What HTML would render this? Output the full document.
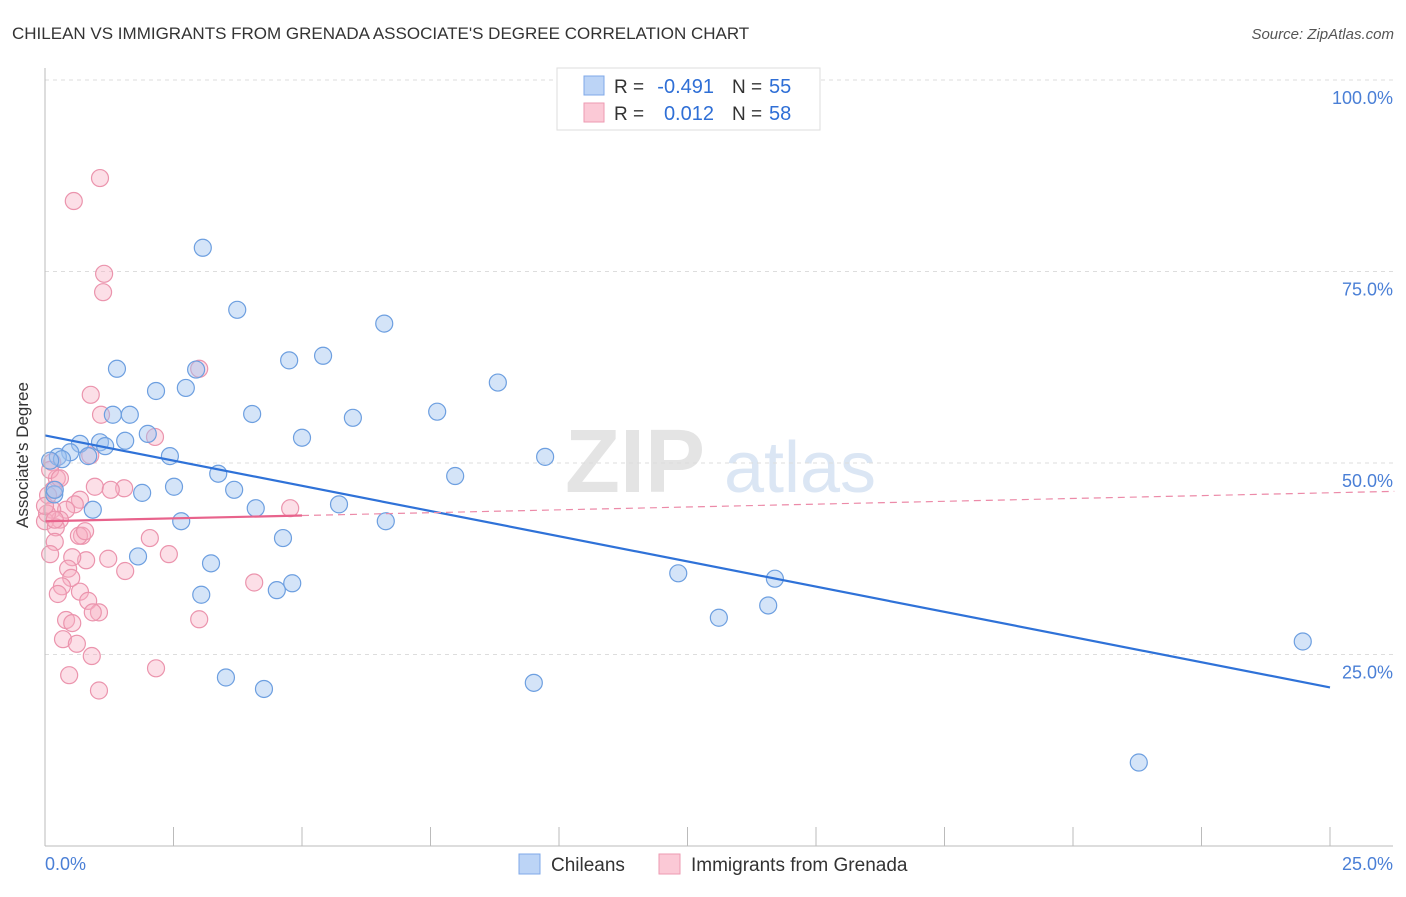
<!DOCTYPE html>
<html><head><meta charset="utf-8"><style>
body{margin:0;background:#fff;font-family:"Liberation Sans",sans-serif}
svg text{font-family:"Liberation Sans",sans-serif}
</style></head><body>
<svg id="c" width="1406" height="892" xmlns="http://www.w3.org/2000/svg">
<text x="12" y="39" font-size="17" fill="#333">CHILEAN VS IMMIGRANTS FROM GRENADA ASSOCIATE'S DEGREE CORRELATION CHART</text>
<text x="1394" y="39" font-size="15" fill="#555" text-anchor="end" font-style="italic">Source: ZipAtlas.com</text>
<text x="635" y="492" font-size="90" fill="#e4e4e4" font-family="Liberation Serif" font-weight="bold" text-anchor="middle">ZIP</text>
<text x="800" y="492" font-size="72" fill="#dbe6f4" text-anchor="middle">atlas</text>
<g id="grid"></g><g id="pts"></g><g id="lines"></g>
<line x1="45" y1="68" x2="45" y2="846" stroke="#bbb"/>
<line x1="45" y1="846" x2="1393" y2="846" stroke="#bbb"/>
<text x="28" y="455" font-size="17" fill="#333" text-anchor="middle" transform="rotate(-90 28 455)">Associate's Degree</text>
<text x="45" y="870" font-size="18" fill="#4a7fd6">0.0%</text>
<text x="1393" y="870" font-size="18" fill="#4a7fd6" text-anchor="end">25.0%</text>
<g>
<rect x="557" y="68" width="263" height="62" fill="#fff" stroke="#ddd"/>
<rect x="584" y="76" width="20" height="19" fill="#bcd4f6" stroke="#7fa8e8"/>
<rect x="584" y="103" width="20" height="19" fill="#fbc9d6" stroke="#ee9ab2"/>
<text x="614" y="93" font-size="19" fill="#333">R =</text>
<text x="714" y="93" font-size="20" fill="#2f6fd6" text-anchor="end">-0.491</text>
<text x="732" y="93" font-size="19" fill="#333">N =</text>
<text x="769" y="93" font-size="20" fill="#2f6fd6">55</text>
<text x="614" y="120" font-size="19" fill="#333">R =</text>
<text x="714" y="120" font-size="20" fill="#2f6fd6" text-anchor="end">0.012</text>
<text x="732" y="120" font-size="19" fill="#333">N =</text>
<text x="769" y="120" font-size="20" fill="#2f6fd6">58</text>
</g>
<g>
<rect x="519" y="854" width="21" height="20" fill="#bcd4f6" stroke="#7fa8e8"/>
<text x="551" y="871" font-size="19" fill="#333">Chileans</text>
<rect x="659" y="854" width="21" height="20" fill="#fbc9d6" stroke="#ee9ab2"/>
<text x="691" y="871" font-size="19" fill="#333">Immigrants from Grenada</text>
</g>
</svg>
<script>
const yTicks=[25,50,75,100];
const xTicks=[0,2.5,5,7.5,10,12.5,15,17.5,20,22.5,25];
const blueX=[3.07,3.74,6.60,5.41,4.75,1.40,2.94,8.81,2.16,2.74,1.32,1.65,4.03,5.99,7.63,2.00,1.56,1.07,0.68,5.00,1.17,0.49,0.84,0.25,0.33,2.43,9.73,3.37,7.98,0.18,1.89,2.51,3.68,5.72,0.93,4.10,2.65,6.63,4.63,1.81,3.23,12.32,14.20,4.81,4.51,3.04,14.07,13.11,24.47,3.52,4.26,9.51,21.28,0.19,0.10];
const blueY=[78.1,70.0,68.2,64.0,63.4,62.3,62.2,60.5,59.4,59.8,56.3,56.3,56.4,55.9,56.7,53.8,52.9,52.7,52.5,53.3,52.2,51.4,50.9,50.8,50.5,50.9,50.8,48.6,48.3,45.9,46.1,46.9,46.5,44.6,43.9,44.1,42.4,42.4,40.2,37.8,36.9,35.6,34.9,34.3,33.4,32.8,31.4,29.8,26.7,22.0,20.5,21.3,10.9,46.5,50.3];
const pinkX=[1.07,0.56,1.15,1.13,3.0,0.89,1.09,2.14,0.88,0.14,0.23,0.16,0.97,1.54,1.28,0.68,0.58,0.41,4.77,0.06,0.14,0.29,0.0,0.21,0.72,0.66,2.04,0.19,2.41,1.23,0.8,0.53,0.1,1.56,0.45,0.51,4.07,0.33,0.68,0.25,0.84,1.05,0.93,3.0,0.41,0.53,0.35,0.62,0.91,2.16,0.47,1.05,0.04,0.1,0.19,0.29,0.78,0.0];
const pinkY=[87.2,84.2,74.7,72.3,62.3,58.9,56.3,53.4,51.0,50.1,48.0,46.5,46.9,46.7,46.5,45.2,44.6,43.9,44.1,45.8,43.9,42.6,42.4,41.6,40.5,40.5,40.2,39.7,38.1,37.5,37.3,37.7,38.1,35.9,36.2,35.0,34.4,33.9,33.2,32.9,32.0,30.5,30.5,29.6,29.5,29.1,27.0,26.4,24.8,23.2,22.3,20.3,43.4,49.1,42.6,48.0,41.1,44.4];
const blueLine=[53.6,20.7], pinkLine=[42.4,46.3];
const X=v=>45+v/25*1285, Y=v=>846-v/100*766;
const ns="http://www.w3.org/2000/svg";
function mk(t,a,p){const e=document.createElementNS(ns,t);for(const k in a)e.setAttribute(k,a[k]);p.appendChild(e);return e;}
const g=document.getElementById('grid');
yTicks.forEach(t=>{
 const l=mk('line',{x1:45,x2:1393,y1:Y(t),y2:Y(t),stroke:'#ddd','stroke-dasharray':'4,4'},g);
 
 
 const tx=mk('text',{x:1393,y:Y(t)+24,'font-size':18,fill:'#4a7fd6','text-anchor':'end'},g);
 tx.textContent=t.toFixed(1)+'%';
 
 
});
xTicks.forEach(t=>{
 const l=mk('line',{x1:X(t),x2:X(t),y1:827,y2:846,stroke:'#bbb'},g);
 
 
});
const p=document.getElementById('pts');
pinkX.forEach((v,i)=>{
 const c=mk('circle',{cx:X(v),cy:Y(pinkY[i]),r:8.5,fill:'rgba(248,175,196,0.4)',stroke:'#eb94ad','stroke-width':1.2},p);
 
 
});
blueX.forEach((v,i)=>{
 const c=mk('circle',{cx:X(v),cy:Y(blueY[i]),r:8.5,fill:'rgba(160,195,240,0.45)',stroke:'#6d9fe0','stroke-width':1.2},p);
 
 
});
const L=document.getElementById('lines');
const bl=mk('line',{x1:X(0),y1:Y(blueLine[0]),x2:X(25),y2:Y(blueLine[1]),stroke:'#2f72d8','stroke-width':2.2},L);


const pe=v=>pinkLine[0]+(pinkLine[1]-pinkLine[0])*v/26.25;
const pd=mk('line',{x1:X(5),y1:Y(pe(5)),x2:X(26.25),y2:Y(pe(26.25)),stroke:'#ec8aa8','stroke-width':1.2,'stroke-dasharray':'7,5'},L);


const ps=mk('line',{x1:X(0),y1:Y(pe(0)),x2:X(5),y2:Y(pe(5)),stroke:'#e8638c','stroke-width':2.2},L);


</script>
</body></html>
